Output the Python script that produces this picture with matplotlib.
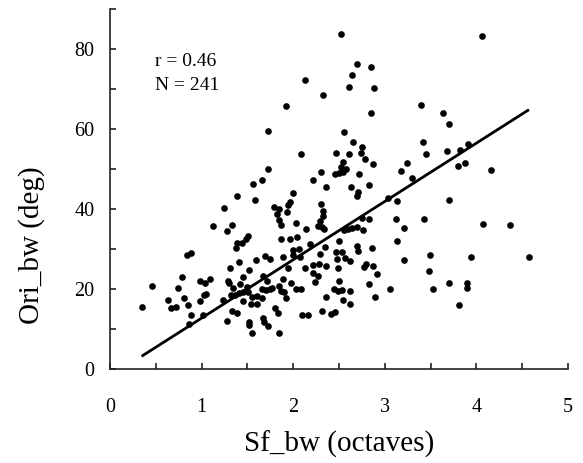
import numpy as np
import matplotlib
matplotlib.use('Agg')
import matplotlib.pyplot as plt

plt.rcParams['font.family'] = ['Liberation Serif', 'DejaVu Serif']

# spatial-frequency bandwidth (octaves) vs orientation bandwidth (deg)
sf_bw = [
    1.565, 1.39, 1.58, 1.248, 1.124, 1.274, 1.328, 1.503, 1.48, 1.383,
    1.437, 1.376, 0.844, 0.881, 1.412, 1.598, 1.314, 1.52, 1.455, 0.79,
    0.459, 0.746, 0.979, 1.041, 1.092, 1.292, 1.30, 1.346, 1.423, 1.492,
    0.63, 0.808, 0.662, 0.72, 0.855, 0.979, 1.03, 1.048, 1.237, 1.317,
    1.365, 1.412, 1.455, 1.51, 1.547, 1.455, 1.536, 1.608, 1.608, 0.345,
    0.884, 0.866, 1.012, 1.332, 1.383, 1.277, 1.517, 1.52, 1.55, 1.725,
    2.558, 2.656, 2.755, 2.74, 2.467, 2.609, 2.085, 2.784, 2.875, 2.544,
    2.519, 2.576, 2.547, 2.503, 2.453, 1.725, 2.303, 2.212, 2.722, 3.239,
    3.18, 1.663, 1.994, 2.358, 2.631, 2.828, 2.704, 2.70, 3.038, 3.133,
    1.965, 1.794, 1.848, 1.947, 1.929, 1.82, 2.303, 2.322, 2.329, 1.848,
    1.863, 2.027, 2.293, 2.274, 2.311, 2.136, 2.34, 2.755, 2.828, 3.122,
    3.21, 2.558, 2.60, 2.645, 2.693, 2.758, 1.867, 1.965, 2.038, 2.183,
    2.503, 2.70, 3.13, 2.347, 2.864, 2.71, 1.994, 2.067, 2.00, 2.074,
    1.892, 1.692, 1.747, 2.293, 2.467, 2.529, 2.48, 2.565, 2.62, 2.795,
    2.868, 3.21, 1.947, 2.129, 2.22, 2.286, 2.493, 2.358, 2.773, 1.667,
    1.717, 1.892, 1.976, 2.22, 2.274, 2.238, 2.50, 2.918, 2.831, 1.656,
    1.70, 1.747, 1.772, 1.848, 1.867, 1.903, 1.918, 2.027, 2.082, 2.358,
    2.449, 2.493, 2.536, 2.62, 2.547, 2.62, 2.893, 3.057, 1.663, 1.801,
    1.838, 1.674, 1.685, 1.728, 1.848, 2.10, 2.165, 2.311, 2.409, 2.456,
    2.519, 2.697, 2.849, 2.642, 2.132, 2.609, 2.878, 2.325, 1.918, 2.849,
    4.065, 3.399, 3.639, 3.705, 3.413, 3.45, 3.675, 3.821, 3.912, 3.293,
    3.803, 3.879, 4.159, 3.705, 3.432, 4.067, 4.367, 3.497, 3.941, 4.574,
    3.483, 3.53, 3.705, 3.894, 3.894, 3.813,
]
ori_bw = [
    46.25, 43.2, 42.3, 40.3, 35.75, 34.4, 36.1, 33.25, 32.6, 31.4,
    31.6, 30.2, 28.5, 28.9, 26.7, 27.2, 25.2, 24.75, 22.9, 22.9,
    20.75, 20.2, 21.9, 21.5, 22.5, 22.1, 21.6, 20.3, 21.2, 20.4,
    17.3, 17.7, 15.2, 15.5, 16.1, 17.1, 18.6, 18.7, 17.25, 18.5,
    18.5, 18.9, 19.3, 19.3, 18.1, 16.9, 16.2, 16.2, 18.25, 15.6,
    13.5, 11.2, 13.5, 14.6, 14.1, 12.1, 11.8, 11.0, 8.9, 59.5,
    59.2, 56.7, 55.6, 54.1, 54.1, 53.7, 53.75, 52.4, 51.25, 51.75,
    50.6, 49.9, 49.3, 48.9, 48.7, 50.0, 49.2, 47.25, 48.7, 51.6,
    49.6, 47.25, 44.1, 45.6, 45.4, 46.0, 44.25, 43.3, 42.8, 42.1,
    41.8, 40.4, 40.0, 41.0, 39.3, 38.75, 41.2, 39.5, 38.3, 37.25,
    36.0, 36.6, 37.1, 35.8, 35.4, 34.9, 35.0, 37.7, 37.5, 37.5,
    35.3, 34.75, 34.9, 35.3, 35.6, 34.75, 32.4, 32.4, 33.1, 31.2,
    32.0, 30.75, 32.0, 30.6, 30.2, 29.6, 29.75, 29.9, 28.5, 27.9,
    28.1, 28.25, 27.4, 28.75, 29.3, 29.3, 27.4, 27.7, 27.1, 26.25,
    25.75, 27.25, 25.2, 25.2, 26.0, 26.25, 25.2, 25.8, 25.4, 23.25,
    22.0, 22.5, 21.6, 23.9, 23.3, 21.7, 22.1, 23.7, 21.2, 19.9,
    19.75, 19.9, 20.2, 20.75, 19.5, 19.2, 17.8, 19.9, 19.9, 18.1,
    19.9, 19.6, 19.75, 19.5, 17.25, 16.2, 18.1, 19.9, 17.8, 15.3,
    13.9, 12.8, 11.7, 10.8, 8.9, 13.5, 13.5, 14.5, 13.75, 14.2,
    83.7, 76.3, 75.4, 73.4, 72.2, 70.5, 70.2, 68.6, 65.75, 64.0,
    83.25, 65.9, 63.9, 61.25, 56.7, 53.7, 54.6, 54.75, 56.25, 47.8,
    50.75, 51.6, 49.8, 42.2, 37.5, 36.3, 36.1, 28.4, 28.1, 28.1,
    24.6, 19.9, 21.6, 21.6, 20.2, 16.0,
]

# regression line as drawn in the figure
fit_slope = 14.58
fit_intercept = -1.85
r_text = 'r = 0.46'
n_text = 'N = 241'

x = np.array(sf_bw)
y = np.array(ori_bw)

fig = plt.figure(figsize=(5.83, 4.63), dpi=100)
ax = fig.add_axes([110/583, 1 - 369/463, 458/583, 360/463])

ax.plot(x, y, 'o', color='black', markersize=4.8, markeredgewidth=0)

xl = np.array([x.min(), x.max()])
ax.plot(xl, fit_slope*xl + fit_intercept, color='black', lw=2.0, solid_capstyle='butt')

ax.set_xlim(0, 5)
ax.set_ylim(0, 90)
ax.set_xticks(np.arange(0, 5.01, 0.5))
ax.set_xticklabels(['0', '', '1', '', '2', '', '3', '', '4', '', '5'])
ax.set_yticks(np.arange(0, 91, 10))
ax.set_yticklabels(['0', '', '20', '', '40', '', '60', '', '80', ''])

for s in ['top', 'right']:
    ax.spines[s].set_visible(False)
for s in ['left', 'bottom']:
    ax.spines[s].set_linewidth(1.2)
    ax.spines[s].set_color('#222222')

ax.tick_params(axis='both', direction='in', length=4, width=1.2, color='#222222', labelsize=14.5)
ax.tick_params(axis='x', pad=21)
ax.tick_params(axis='y', pad=11)

ax.set_xlabel('Sf_bw (octaves)', fontsize=21, labelpad=10)
ax.set_ylabel('Ori_bw (deg)', fontsize=21)
ax.yaxis.set_label_coords(-0.142, 0.344)

ax.text(0.49, 76.8, r_text, fontsize=14, va='center', ha='left')
ax.text(0.49, 71.0, n_text, fontsize=14, va='center', ha='left')

fig.savefig('out.png', dpi=100)
